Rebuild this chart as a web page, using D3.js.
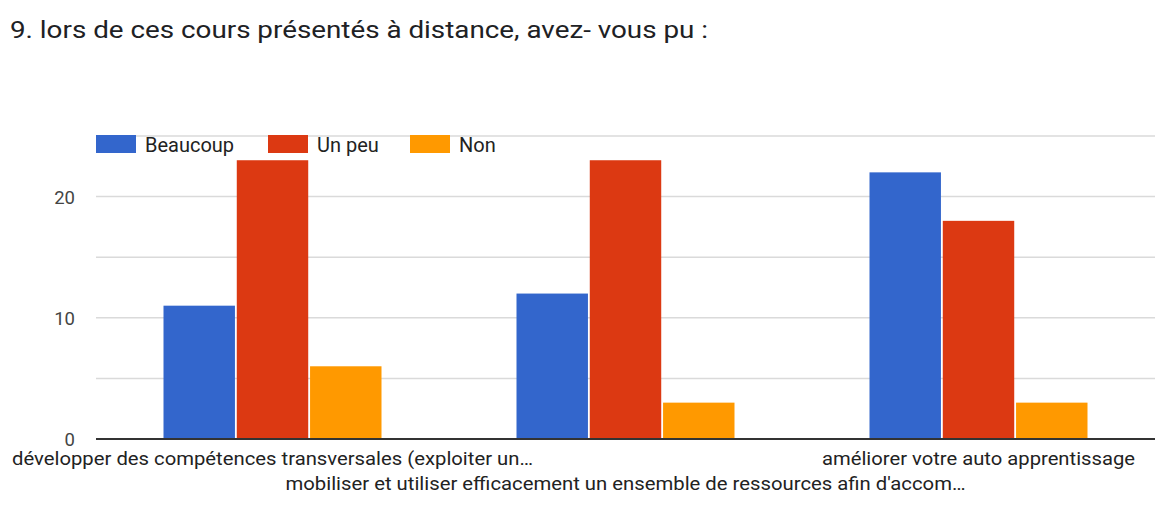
<!DOCTYPE html>
<html>
<head>
<meta charset="utf-8">
<script src="https://cdnjs.cloudflare.com/ajax/libs/d3/7.8.5/d3.min.js"></script>
<style>
  body { margin: 0; background: #fff; }
  svg text { font-family: Roboto, "Noto Sans", sans-serif; }
</style>
</head>
<body>
<svg id="chart" width="1165" height="513"></svg>
<script>
// data
var titleText = '9. lors de ces cours présentés à distance, avez- vous pu :';
var categories = [
    'développer des compétences transversales (exploiter un…',
    "mobiliser et utiliser efficacement un ensemble de ressources afin d'accom…",
    'améliorer votre auto apprentissage'
];
var seriesNames = ['Beaucoup', 'Un peu', 'Non'];
var beaucoup = [11, 12, 22];
var unPeu = [23, 23, 18];
var non = [6, 3, 3];
var yTicks = [0, 10, 20];
var gridTicks = [5, 10, 15, 20, 25];

var colors = ['#3366cc', '#dc3912', '#ff9900'];
var series = [beaucoup, unPeu, non];

var svg = d3.select('#chart');
var margin = { top: 136, right: 10, bottom: 74, left: 96 };
var W = 1165, H = 513;
var innerW = W - margin.left - margin.right;
var innerH = H - margin.top - margin.bottom;

// title
svg.append('text')
    .attr('x', 10).attr('y', 38)
    .attr('font-size', 24)
    .attr('fill', '#202124')
    .attr('textLength', 698)
    .attr('lengthAdjust', 'spacingAndGlyphs')
    .text(titleText);

var g = svg.append('g').attr('transform', 'translate(' + margin.left + ',' + margin.top + ')');

var x0 = d3.scaleBand().domain(d3.range(categories.length)).range([0, innerW]).paddingInner(0).paddingOuter(0);
var x1 = d3.scaleBand().domain(d3.range(seriesNames.length)).range([0, 218]).paddingInner(0.025);
var y = d3.scaleLinear().domain([0, 25]).range([innerH, 0]);

// gridlines
g.selectAll('.grid').data(gridTicks).enter().append('line')
    .attr('class', 'grid')
    .attr('x1', 0).attr('x2', innerW)
    .attr('y1', function (d) { return y(d); })
    .attr('y2', function (d) { return y(d); })
    .attr('stroke', '#dadada')
    .attr('stroke-width', 1.5);

// y tick labels
g.selectAll('.ytick').data(yTicks).enter().append('text')
    .attr('class', 'ytick')
    .attr('x', -21)
    .attr('y', function (d) { return y(d) + 7; })
    .attr('text-anchor', 'end')
    .attr('font-size', 18.5)
    .attr('fill', '#444')
    .text(function (d) { return d; });

// bars
var groups = g.selectAll('.grp').data(categories).enter().append('g')
    .attr('class', 'grp')
    .attr('transform', function (d, i) {
        return 'translate(' + (x0(i) + (x0.bandwidth() - 218) / 2) + ',0)';
    });

groups.selectAll('rect').data(function (d, i) {
    return series.map(function (s, k) { return { k: k, v: s[i] }; });
}).enter().append('rect')
    .attr('x', function (d) { return x1(d.k); })
    .attr('width', x1.bandwidth())
    .attr('y', function (d) { return y(d.v); })
    .attr('height', function (d) { return innerH - y(d.v); })
    .attr('fill', function (d) { return colors[d.k]; });

// baseline
g.append('line')
    .attr('x1', 0).attr('x2', innerW)
    .attr('y1', innerH).attr('y2', innerH)
    .attr('stroke', '#333').attr('stroke-width', 2);

// x labels (staggered)
var labelWidths = [521, 680, 313];
g.selectAll('.xlab').data(categories).enter().append('text')
    .attr('class', 'xlab')
    .attr('x', function (d, i) { return x0(i) + x0.bandwidth() / 2; })
    .attr('y', function (d, i) { return innerH + (i % 2 ? 51 : 26); })
    .attr('text-anchor', 'middle')
    .attr('font-size', 19)
    .attr('fill', '#222')
    .attr('textLength', function (d, i) { return labelWidths[i]; })
    .attr('lengthAdjust', 'spacingAndGlyphs')
    .text(function (d) { return d; });

// legend
var legendX = [96, 268, 410];
var leg = svg.selectAll('.leg').data(seriesNames).enter().append('g')
    .attr('class', 'leg')
    .attr('transform', function (d, i) { return 'translate(' + legendX[i] + ',135)'; });
leg.append('rect')
    .attr('width', 40).attr('height', 18)
    .attr('fill', function (d, i) { return colors[i]; });
leg.append('text')
    .attr('x', 49).attr('y', 17)
    .attr('font-size', 20)
    .attr('fill', '#222')
    .text(function (d) { return d; });
</script>
</body>
</html>
